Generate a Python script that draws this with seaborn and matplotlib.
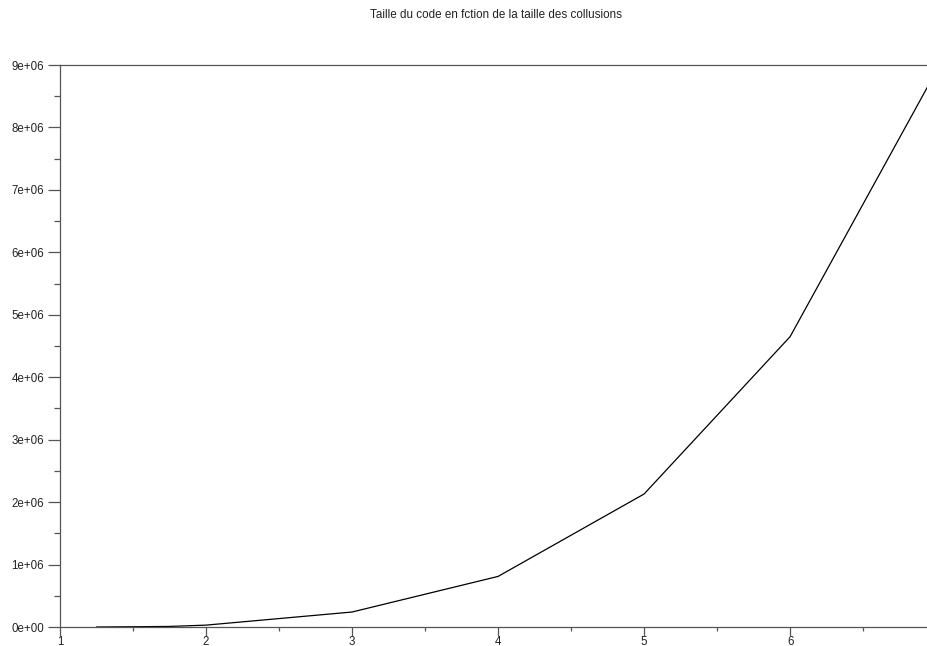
import numpy as np
import pandas as pd
import seaborn as sns
from matplotlib import pyplot as plt
from matplotlib.ticker import MultipleLocator, FuncFormatter

# taille des collusions vs taille du code
taille_collusion = [1.25, 1.5, 1.75, 2, 3, 4, 5, 6, 7]
taille_code = [0, 4000, 9000, 30000, 240000, 810000, 2130000, 4650000, 8900000]

df = pd.DataFrame({"collusion": taille_collusion, "code": taille_code})

sns.set_style("ticks")
plt.rcParams["font.family"] = ["Liberation Sans", "DejaVu Sans"]

fig = plt.figure(figsize=(9.27, 6.46), dpi=100)
ax = fig.add_axes([60 / 927, 19 / 646, 1 - 60 / 927 + 0.002, (627 - 65) / 646])

sns.lineplot(data=df, x="collusion", y="code", ax=ax, color="black", linewidth=0.9)

ax.set_xlim(1, 6.95)
ax.set_ylim(0, 9e6)
ax.xaxis.set_major_locator(MultipleLocator(1))
ax.xaxis.set_minor_locator(MultipleLocator(0.5))
ax.yaxis.set_major_locator(MultipleLocator(1e6))
ax.yaxis.set_minor_locator(MultipleLocator(5e5))


def sci(v, pos):
    s = "%.0e" % v
    return s


ax.yaxis.set_major_formatter(FuncFormatter(sci))
ax.set_xlabel("")
ax.set_ylabel("")

for side in ["left", "bottom", "top"]:
    ax.spines[side].set_color("#555555")
    ax.spines[side].set_linewidth(0.9)
ax.spines["right"].set_visible(False)
ax.tick_params(which="both", width=0.9, color="#555555", labelsize=8.3, labelcolor="#222222")
ax.tick_params(axis="y", which="major", length=8.5, pad=3)
ax.tick_params(axis="y", which="minor", length=4.5)
ax.tick_params(axis="x", which="major", length=6.5, pad=0)
ax.tick_params(axis="x", which="minor", length=3)

fig.text(496 / 927, 1 - 15 / 646, "Taille du code en fction de la taille des collusions",
         ha="center", va="center", fontsize=8.4, color="#222222")

fig.savefig("out.png", dpi=100)
